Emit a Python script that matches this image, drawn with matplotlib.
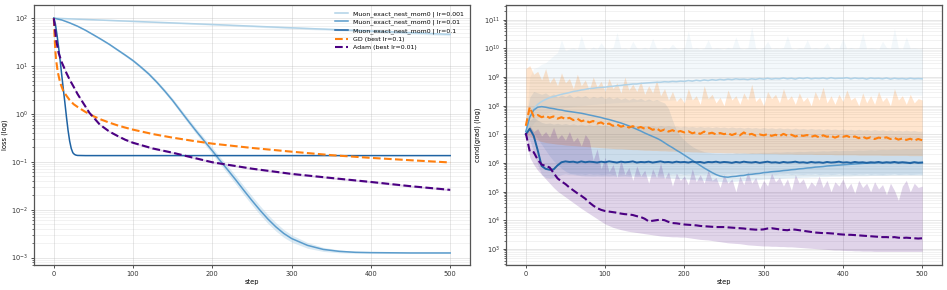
import numpy as np
import matplotlib
matplotlib.use("Agg")
import matplotlib.pyplot as plt
from matplotlib.ticker import LogLocator, NullFormatter

# ---------------- Left panel: loss ----------------
steps_m001 = [0, 100, 200, 300, 400, 500]
loss_m001 = [100, 86, 74, 63, 54, 46]
spread_m001 = [0.0, 0.01, 0.015, 0.02, 0.025, 0.03]

steps_m01 = [0, 10, 20, 30, 40, 50, 60, 70, 80, 90, 100, 110, 120, 130, 140, 150, 160, 170, 180, 190,
             200, 210, 220, 230, 240, 250, 260, 270, 280, 290, 300, 320, 340, 360, 380, 400, 450, 500]
loss_m01 = [100, 92, 80, 68, 56, 45, 36, 28.5, 22, 17, 13, 9.5, 6.8, 4.6, 3.0, 1.9, 1.15, 0.70, 0.43, 0.27,
            0.17, 0.105, 0.066, 0.041, 0.025, 0.0155, 0.0098, 0.0064, 0.0044, 0.0032, 0.0025, 0.0018,
            0.00148, 0.00135, 0.00129, 0.00127, 0.00125, 0.00125]
spread_m01 = [0, 0.005, 0.01, 0.012, 0.014, 0.016, 0.018, 0.02, 0.022, 0.025, 0.028, 0.031, 0.034, 0.037,
              0.04, 0.044, 0.048, 0.053, 0.058, 0.064, 0.07, 0.076, 0.082, 0.088, 0.092, 0.094, 0.094, 0.092,
              0.088, 0.082, 0.075, 0.06, 0.042, 0.03, 0.02, 0.014, 0.01, 0.01]

steps_m1 = [0, 2, 4, 6, 8, 10, 12, 14, 16, 18, 20, 22, 24, 26, 28, 30, 40, 500]
loss_m1 = [100, 75, 45, 25, 13, 6.5, 3.3, 1.7, 0.85, 0.45, 0.27, 0.19, 0.155, 0.143, 0.138, 0.136, 0.135, 0.135]

steps_gd = [0, 1, 2, 3, 5, 8, 12, 16, 20, 25, 30, 40, 50, 60, 70, 80, 90, 100, 125, 150,
            175, 200, 250, 300, 350, 400, 450, 500]
loss_gd = [100, 40, 20, 13, 7.5, 4.5, 3.0, 2.4, 1.95, 1.6, 1.4, 1.1, 0.9, 0.76, 0.66, 0.58, 0.52, 0.47,
           0.38, 0.32, 0.275, 0.24, 0.195, 0.163, 0.138, 0.121, 0.108, 0.097]

steps_adam = [0, 3, 6, 10, 16, 20, 25, 30, 37, 45, 50, 58, 70, 80, 90, 100, 125, 150, 175, 200,
              250, 300, 350, 400, 450, 500]
loss_adam = [100, 35, 19, 12, 7.1, 5.2, 3.7, 2.6, 1.7, 1.05, 0.85, 0.6, 0.43, 0.35, 0.29, 0.25, 0.19,
             0.155, 0.123, 0.098, 0.072, 0.056, 0.046, 0.038, 0.031, 0.026]
spread_adam = [0.0] * 3 + [0.02] * 23

# ---------------- Right panel: cond(grad), log10 values every 5 steps ----------------
steps_r = np.arange(0, 501, 5)

cond_m001_mean = [7.00, 7.60, 7.90, 8.05, 8.15, 8.22, 8.28, 8.32, 8.36, 8.40,
                  8.43, 8.46, 8.50, 8.52, 8.55, 8.57, 8.60, 8.61, 8.63, 8.64,
                  8.65, 8.67, 8.68, 8.70, 8.71, 8.73, 8.74, 8.76, 8.76, 8.78,
                  8.79, 8.80, 8.81, 8.82, 8.82, 8.84, 8.83, 8.85, 8.84, 8.86,
                  8.85, 8.88, 8.86, 8.89, 8.87, 8.90, 8.88, 8.91, 8.89, 8.92,
                  8.90, 8.93, 8.91, 8.94, 8.92, 8.93, 8.91, 8.94, 8.92, 8.95,
                  8.93, 8.96, 8.93, 8.95, 8.94, 8.97, 8.94, 8.96, 8.93, 8.97,
                  8.95, 8.98, 8.94, 8.96, 8.95, 8.97, 8.94, 8.98, 8.95, 8.96,
                  8.96, 8.98, 8.94, 8.97, 8.95, 8.96, 8.93, 8.97, 8.95, 8.96,
                  8.94, 8.97, 8.93, 8.96, 8.94, 8.95, 8.93, 8.96, 8.94, 8.95,
                  8.94]
cond_m001_lo = [6.95, 7.20, 7.40, 7.55, 7.65, 7.72, 7.78, 7.82, 7.86, 7.90,
                7.93, 7.95, 7.97, 7.99, 8.01, 8.02, 8.04, 8.05, 8.06, 8.07,
                8.08, 8.09, 8.10, 8.11, 8.12, 8.13, 8.13, 8.14, 8.15, 8.15,
                8.16, 8.17, 8.17, 8.18, 8.18, 8.19, 8.19, 8.20, 8.20, 8.21,
                8.21, 8.22, 8.22, 8.23, 8.23, 8.24, 8.24, 8.24, 8.25, 8.25,
                8.26, 8.26, 8.26, 8.27, 8.27, 8.27, 8.28, 8.28, 8.28, 8.29,
                8.29, 8.29, 8.30, 8.30, 8.30, 8.30, 8.31, 8.31, 8.31, 8.31,
                8.32, 8.32, 8.32, 8.32, 8.33, 8.33, 8.33, 8.33, 8.33, 8.34,
                8.34, 8.34, 8.34, 8.34, 8.35, 8.35, 8.35, 8.35, 8.35, 8.35,
                8.36, 8.36, 8.36, 8.36, 8.36, 8.36, 8.36, 8.37, 8.37, 8.37,
                8.37]
cond_m001_hi = [7.30, 9.00, 9.30, 9.35, 9.45, 9.50, 9.62, 9.75, 9.85, 10.30,
                9.92, 9.98, 10.02, 9.95, 10.45, 10.00, 9.96, 10.05, 9.98, 10.20,
                10.00, 9.97, 10.03, 10.55, 9.99, 10.02, 9.96, 10.25, 10.01, 9.98,
                10.04, 9.97, 10.35, 10.00, 9.98, 10.03, 9.99, 10.15, 10.00, 9.96,
                10.02, 10.60, 9.99, 10.03, 9.97, 10.01, 10.30, 9.98, 10.02, 10.00,
                9.97, 10.04, 9.99, 10.40, 10.01, 9.98, 10.02, 10.75, 10.00, 9.97,
                10.03, 10.25, 9.98, 10.01, 9.99, 10.03, 10.45, 10.00, 9.97, 10.02,
                10.00, 10.30, 9.98, 10.03, 9.99, 10.01, 10.20, 9.97, 10.02, 10.00,
                10.35, 9.98, 10.03, 9.99, 10.01, 10.55, 9.98, 10.02, 10.00, 9.97,
                10.25, 10.03, 9.99, 10.70, 10.01, 9.98, 10.40, 10.00, 10.02, 9.99,
                10.00]

cond_m01_mean = [7.10, 7.60, 7.85, 7.95, 7.97, 7.95, 7.92, 7.90, 7.87, 7.85,
                 7.82, 7.80, 7.78, 7.76, 7.74, 7.71, 7.68, 7.65, 7.62, 7.59,
                 7.55, 7.52, 7.48, 7.44, 7.40, 7.35, 7.30, 7.24, 7.18, 7.12,
                 7.05, 6.99, 6.93, 6.87, 6.80, 6.71, 6.62, 6.54, 6.45, 6.37,
                 6.28, 6.19, 6.10, 6.01, 5.92, 5.83, 5.75, 5.67, 5.60, 5.55,
                 5.52, 5.51, 5.53, 5.54, 5.56, 5.57, 5.60, 5.61, 5.63, 5.64,
                 5.67, 5.68, 5.70, 5.71, 5.72, 5.74, 5.75, 5.77, 5.78, 5.80,
                 5.81, 5.83, 5.84, 5.86, 5.87, 5.88, 5.90, 5.91, 5.92, 5.93,
                 5.94, 5.95, 5.96, 5.97, 5.98, 5.99, 6.00, 6.00, 6.01, 6.01,
                 6.02, 6.02, 6.01, 6.02, 6.03, 6.02, 6.01, 6.02, 6.03, 6.02,
                 6.02]
cond_m01_lo = [7.00, 7.15, 7.05, 6.85, 6.65, 6.45, 6.25, 6.08, 5.95, 5.82,
               5.72, 5.65, 5.60, 5.58, 5.56, 5.55, 5.55, 5.54, 5.55, 5.54,
               5.55, 5.54, 5.55, 5.53, 5.54, 5.55, 5.53, 5.54, 5.53, 5.54,
               5.52, 5.53, 5.52, 5.52, 5.51, 5.50, 5.49, 5.48, 5.47, 5.46,
               5.45, 5.44, 5.43, 5.42, 5.41, 5.40, 5.39, 5.38, 5.37, 5.36,
               5.35, 5.35, 5.36, 5.37, 5.38, 5.39, 5.40, 5.41, 5.42, 5.43,
               5.44, 5.45, 5.46, 5.47, 5.47, 5.48, 5.49, 5.49, 5.50, 5.50,
               5.51, 5.51, 5.52, 5.52, 5.53, 5.53, 5.53, 5.54, 5.54, 5.54,
               5.55, 5.55, 5.55, 5.56, 5.56, 5.56, 5.56, 5.57, 5.57, 5.57,
               5.57, 5.57, 5.58, 5.58, 5.58, 5.58, 5.58, 5.58, 5.58, 5.58,
               5.58]
cond_m01_hi = [7.50, 8.30, 8.50, 8.45, 8.40, 8.45, 8.35, 8.42, 8.30, 8.38,
               8.32, 8.40, 8.28, 8.35, 8.30, 8.36, 8.26, 8.33, 8.28, 8.34,
               8.25, 8.32, 8.24, 8.30, 8.22, 8.28, 8.20, 8.27, 8.21, 8.26,
               8.18, 8.24, 8.17, 8.22, 8.15, 8.10, 7.90, 7.50, 7.15, 6.95,
               6.80, 6.68, 6.58, 6.50, 6.45, 6.40, 6.38, 6.36, 6.35, 6.35,
               6.34, 6.35, 6.34, 6.36, 6.35, 6.36, 6.35, 6.37, 6.36, 6.37,
               6.38, 6.37, 6.38, 6.39, 6.38, 6.39, 6.40, 6.39, 6.40, 6.41,
               6.40, 6.41, 6.42, 6.41, 6.42, 6.43, 6.42, 6.43, 6.44, 6.43,
               6.44, 6.45, 6.44, 6.45, 6.46, 6.45, 6.46, 6.47, 6.46, 6.47,
               6.48, 6.47, 6.48, 6.49, 6.48, 6.49, 6.50, 6.49, 6.50, 6.50,
               6.50]

cond_m1_mean = [7.00, 7.20, 6.95, 6.45, 5.90, 5.80, 5.77, 5.78, 5.92, 6.03,
                6.06, 6.04, 6.05, 6.02, 6.06, 6.03, 6.05, 6.04, 6.02, 6.05,
                6.03, 6.06, 6.04, 6.02, 6.05, 6.03, 6.04, 6.06, 6.02, 6.04,
                6.03, 6.05, 6.02, 6.04, 6.06, 6.03, 6.04, 6.02, 6.05, 6.03,
                6.04, 6.02, 6.05, 6.03, 6.04, 6.01, 6.04, 6.03, 6.05, 6.02,
                6.04, 6.03, 6.01, 6.04, 6.02, 6.05, 6.03, 6.02, 6.04, 6.01,
                6.03, 6.05, 6.02, 6.03, 6.01, 6.04, 6.02, 6.03, 6.05, 6.02,
                6.03, 6.01, 6.04, 6.02, 6.03, 6.01, 6.04, 6.02, 6.03, 6.05,
                6.02, 6.03, 6.01, 6.04, 6.02, 6.03, 6.01, 6.03, 6.02, 6.04,
                6.01, 6.03, 6.02, 6.04, 6.01, 6.03, 6.02, 6.00, 6.03, 6.01,
                6.02]
cond_m1_lo = [6.95, 6.80, 6.40, 5.95, 5.60, 5.50, 5.48, 5.50, 5.55, 5.60,
              5.62, 5.60, 5.63, 5.61, 5.62, 5.60, 5.63, 5.61, 5.62, 5.60,
              5.61, 5.63, 5.60, 5.62, 5.61, 5.63, 5.60, 5.62, 5.61, 5.60,
              5.62, 5.61, 5.63, 5.60, 5.62, 5.61, 5.60, 5.62, 5.61, 5.63,
              5.60, 5.62, 5.61, 5.60, 5.62, 5.61, 5.63, 5.60, 5.62, 5.61,
              5.60, 5.62, 5.61, 5.63, 5.60, 5.61, 5.62, 5.60, 5.61, 5.63,
              5.60, 5.62, 5.61, 5.60, 5.62, 5.61, 5.63, 5.60, 5.62, 5.61,
              5.60, 5.62, 5.61, 5.63, 5.60, 5.61, 5.62, 5.60, 5.61, 5.63,
              5.60, 5.62, 5.61, 5.60, 5.62, 5.61, 5.63, 5.60, 5.62, 5.61,
              5.60, 5.62, 5.61, 5.63, 5.60, 5.61, 5.62, 5.60, 5.61, 5.62,
              5.61]
cond_m1_hi = [7.10, 7.50, 7.60, 7.50, 7.42, 7.38, 7.40, 7.36, 7.39, 7.35,
              7.38, 7.34, 7.37, 7.33, 7.36, 7.32, 7.35, 7.31, 7.34, 7.30,
              7.33, 7.29, 7.32, 7.30, 7.33, 7.29, 7.31, 7.28, 7.32, 7.29,
              7.31, 7.28, 7.30, 7.27, 7.31, 7.28, 7.30, 7.27, 7.29, 7.26,
              7.29, 7.26, 7.28, 7.25, 7.28, 7.25, 7.27, 7.24, 7.27, 7.24,
              7.26, 7.23, 7.26, 7.23, 7.25, 7.22, 7.25, 7.22, 7.24, 7.21,
              7.24, 7.21, 7.23, 7.20, 7.23, 7.20, 7.22, 7.19, 7.22, 7.19,
              7.21, 7.18, 7.21, 7.18, 7.20, 7.17, 7.20, 7.17, 7.19, 7.16,
              7.19, 7.16, 7.18, 7.15, 7.18, 7.15, 7.17, 7.14, 7.17, 7.14,
              7.16, 7.13, 7.16, 7.13, 7.15, 7.12, 7.15, 7.12, 7.14, 7.11,
              7.12]

cond_gd_mean = [7.30, 7.95, 7.62, 7.68, 7.60, 7.65, 7.58, 7.63, 7.55, 7.60,
                7.54, 7.58, 7.50, 7.55, 7.46, 7.50, 7.42, 7.47, 7.38, 7.42,
                7.34, 7.38, 7.30, 7.35, 7.27, 7.31, 7.24, 7.29, 7.22, 7.26,
                7.20, 7.24, 7.16, 7.21, 7.12, 7.17, 7.10, 7.15, 7.08, 7.12,
                7.07, 7.11, 7.04, 7.08, 7.02, 7.10, 7.03, 7.06, 7.00, 7.05,
                7.01, 7.04, 6.98, 7.03, 6.97, 7.07, 6.99, 7.02, 6.96, 7.00,
                6.97, 7.01, 6.95, 6.99, 6.94, 7.02, 6.96, 6.99, 6.93, 6.97,
                6.95, 6.98, 6.92, 6.96, 6.90, 6.97, 6.92, 6.95, 6.89, 6.94,
                6.92, 6.95, 6.89, 6.93, 6.87, 6.92, 6.86, 6.90, 6.84, 6.89,
                6.87, 6.90, 6.84, 6.88, 6.82, 6.86, 6.81, 6.85, 6.79, 6.84,
                6.80]
cond_gd_lo = [7.00, 6.95, 6.85, 6.80, 6.75, 6.72, 6.70, 6.68, 6.66, 6.65,
              6.63, 6.62, 6.61, 6.60, 6.59, 6.58, 6.57, 6.56, 6.55, 6.54,
              6.53, 6.52, 6.51, 6.50, 6.50, 6.49, 6.48, 6.47, 6.47, 6.46,
              6.45, 6.45, 6.44, 6.44, 6.43, 6.43, 6.42, 6.42, 6.41, 6.41,
              6.40, 6.40, 6.39, 6.39, 6.38, 6.38, 6.38, 6.37, 6.37, 6.37,
              6.36, 6.36, 6.36, 6.35, 6.35, 6.35, 6.34, 6.34, 6.34, 6.34,
              6.33, 6.33, 6.33, 6.33, 6.32, 6.32, 6.32, 6.32, 6.31, 6.31,
              6.31, 6.31, 6.31, 6.30, 6.30, 6.30, 6.30, 6.30, 6.29, 6.29,
              6.29, 6.29, 6.29, 6.29, 6.28, 6.28, 6.28, 6.28, 6.28, 6.28,
              6.27, 6.27, 6.27, 6.27, 6.27, 6.27, 6.27, 6.26, 6.26, 6.26,
              6.26]
cond_gd_hi = [9.30, 9.40, 9.10, 9.20, 8.90, 9.30, 8.80, 9.00, 8.70, 9.15,
              8.80, 8.95, 8.60, 9.10, 8.70, 8.90, 8.55, 9.00, 8.65, 8.85,
              8.50, 8.95, 8.60, 8.80, 8.45, 9.00, 8.55, 8.75, 8.50, 8.85,
              8.40, 8.70, 8.45, 8.90, 8.35, 8.60, 8.20, 8.50, 8.15, 8.30,
              8.10, 8.60, 8.20, 8.35, 8.05, 8.70, 8.25, 8.40, 8.10, 8.30,
              8.00, 8.55, 8.20, 8.35, 8.05, 8.45, 8.20, 8.75, 8.15, 8.30,
              8.00, 8.50, 8.25, 8.40, 8.10, 8.60, 8.20, 8.35, 8.05, 8.45,
              8.15, 8.30, 8.00, 8.50, 8.20, 8.65, 8.10, 8.35, 8.05, 8.40,
              8.15, 8.55, 8.20, 8.30, 8.00, 8.45, 8.10, 8.35, 8.05, 8.50,
              8.15, 8.30, 8.00, 8.60, 8.20, 8.35, 8.05, 8.40, 8.10, 8.25,
              8.20]

cond_adam_mean = [7.05, 6.40, 6.38, 6.12, 5.95, 5.90, 5.85, 5.66, 5.47, 5.36,
                  5.27, 5.15, 5.05, 4.95, 4.86, 4.76, 4.63, 4.52, 4.43, 4.37,
                  4.33, 4.31, 4.29, 4.27, 4.24, 4.22, 4.21, 4.19, 4.15, 4.12,
                  4.06, 3.97, 3.99, 4.01, 4.03, 4.01, 3.95, 3.91, 3.90, 3.88,
                  3.86, 3.85, 3.84, 3.83, 3.81, 3.80, 3.79, 3.78, 3.77, 3.77,
                  3.77, 3.76, 3.75, 3.74, 3.73, 3.72, 3.70, 3.69, 3.68, 3.68,
                  3.69, 3.72, 3.73, 3.71, 3.69, 3.67, 3.66, 3.69, 3.68, 3.66,
                  3.64, 3.62, 3.60, 3.58, 3.57, 3.56, 3.56, 3.55, 3.54, 3.52,
                  3.51, 3.50, 3.50, 3.49, 3.48, 3.47, 3.46, 3.45, 3.44, 3.43,
                  3.42, 3.42, 3.41, 3.42, 3.40, 3.39, 3.40, 3.39, 3.38, 3.37,
                  3.38]
cond_adam_lo = [7.00, 6.20, 5.95, 5.75, 5.60, 5.45, 5.30, 5.15, 5.02, 4.92,
                4.82, 4.72, 4.62, 4.52, 4.42, 4.33, 4.24, 4.15, 4.06, 3.97,
                3.88, 3.82, 3.76, 3.72, 3.68, 3.65, 3.62, 3.60, 3.58, 3.56,
                3.54, 3.52, 3.50, 3.48, 3.46, 3.45, 3.44, 3.43, 3.43, 3.42,
                3.42, 3.40, 3.38, 3.36, 3.34, 3.33, 3.32, 3.30, 3.28, 3.26,
                3.24, 3.22, 3.21, 3.20, 3.19, 3.17, 3.15, 3.14, 3.13, 3.12,
                3.11, 3.11, 3.10, 3.10, 3.09, 3.09, 3.08, 3.08, 3.07, 3.06,
                3.05, 3.04, 3.03, 3.02, 3.01, 3.00, 2.99, 2.98, 2.97, 2.97,
                2.96, 2.95, 2.95, 2.94, 2.94, 2.93, 2.93, 2.93, 2.92, 2.92,
                2.92, 2.92, 2.92, 2.92, 2.92, 2.92, 2.92, 2.92, 2.92, 2.92,
                2.92]
cond_adam_hi = [7.05, 7.30, 7.10, 7.20, 6.95, 7.10, 6.90, 7.25, 6.85, 7.00,
                6.80, 7.10, 6.75, 6.90, 6.60, 7.00, 6.80, 6.10, 6.50, 5.80,
                6.20, 5.70, 5.95, 5.50, 6.10, 5.60, 5.85, 5.40, 5.90, 5.55,
                5.75, 5.30, 5.80, 5.50, 6.00, 5.45, 5.70, 5.20, 5.65, 5.40,
                5.55, 5.25, 5.80, 5.35, 5.60, 5.30, 5.75, 5.40, 5.50, 5.15,
                5.60, 5.30, 5.45, 5.00, 5.55, 5.25, 5.70, 5.30, 5.50, 5.10,
                5.40, 5.20, 5.65, 5.35, 5.50, 5.20, 5.45, 5.05, 5.60, 5.30,
                5.45, 5.10, 5.35, 5.20, 5.55, 5.15, 5.40, 5.00, 5.35, 5.20,
                5.45, 5.10, 5.30, 4.95, 5.40, 5.15, 5.30, 5.00, 5.35, 5.10,
                5.25, 4.90, 5.30, 5.05, 4.70, 5.20, 5.40, 5.00, 5.30, 5.15,
                5.20]

labels = ["Muon_exact_nest_mom0 | lr=0.001", "Muon_exact_nest_mom0 | lr=0.01",
          "Muon_exact_nest_mom0 | lr=0.1", "GD (best lr=0.1)", "Adam (best lr=0.01)"]

# ---------------- styling ----------------
blues = plt.cm.Blues
c_light = blues(0.32)
c_med = "#5b9ccc"
c_dark = "#1f63a3"
c_gd = "#ff7f0e"
c_adam = "#4b0082"
FS = 4.8

fig = plt.figure(figsize=(9.47, 2.9), dpi=100)
axL = fig.add_axes([0.0359, 0.0862, 0.4604, 0.897])
axR = fig.add_axes([0.5343, 0.0862, 0.4604, 0.897])


def style(ax):
    ax.set_yscale("log")
    ax.set_xlim(-25, 525)
    ax.yaxis.set_major_locator(LogLocator(base=10, numticks=30))
    ax.yaxis.set_minor_locator(LogLocator(base=10, subs=np.arange(2, 10), numticks=30))
    ax.yaxis.set_minor_formatter(NullFormatter())
    ax.set_xticks([0, 100, 200, 300, 400, 500])
    ax.grid(True, which="major", color="#b0b0b0", alpha=0.35, lw=0.6)
    ax.grid(True, which="minor", axis="y", color="#b0b0b0", alpha=0.22, lw=0.5)
    ax.tick_params(which="major", labelsize=FS, length=2.5, width=0.6, pad=2, colors="#333333")
    ax.tick_params(which="minor", length=1.5, width=0.5, colors="#333333")
    for s in ax.spines.values():
        s.set_color("#555555")
        s.set_linewidth(0.9)
    ax.set_xlabel("step", fontsize=FS, labelpad=1.5)
    ax.set_axisbelow(True)


def band(ax, x, y, spread, color, alpha):
    y = np.asarray(y, float)
    s = 10.0 ** np.asarray(spread, float)
    ax.fill_between(x, y / s, y * s, color=color, alpha=alpha, lw=0)


# Left panel
band(axL, steps_m001, loss_m001, spread_m001, c_light, 0.3)
axL.plot(steps_m001, loss_m001, color=c_light, lw=1.1, label=labels[0])
band(axL, steps_m01, loss_m01, spread_m01, c_light, 0.45)
axL.plot(steps_m01, loss_m01, color=c_med, lw=1.1, label=labels[1])
axL.plot(steps_m1, loss_m1, color=c_dark, lw=1.1, label=labels[2])
axL.plot(steps_gd, loss_gd, color=c_gd, lw=1.5, ls="--", label=labels[3])
band(axL, steps_adam, loss_adam, spread_adam, c_adam, 0.15)
axL.plot(steps_adam, loss_adam, color=c_adam, lw=1.5, ls="--", label=labels[4])
style(axL)
axL.set_ylim(7e-4, 190)
axL.set_ylabel("loss (log)", fontsize=FS, labelpad=2)
axL.legend(loc="upper right", fontsize=4.5, frameon=False, handlelength=2.2,
           labelspacing=0.42, borderaxespad=0.5)


# Right panel
def rseries(ax, mean, lo, hi, color, alpha, ls, lw):
    ax.fill_between(steps_r, 10.0 ** np.asarray(lo), 10.0 ** np.asarray(hi), color=color, alpha=alpha, lw=0)
    ax.plot(steps_r, 10.0 ** np.asarray(mean), color=color, ls=ls, lw=lw)


rseries(axR, cond_m001_mean, cond_m001_lo, cond_m001_hi, c_light, 0.15, "-", 1.1)
rseries(axR, cond_m01_mean, cond_m01_lo, cond_m01_hi, c_med, 0.16, "-", 1.1)
rseries(axR, cond_m1_mean, cond_m1_lo, cond_m1_hi, c_dark, 0.12, "-", 1.4)
rseries(axR, cond_gd_mean, cond_gd_lo, cond_gd_hi, c_gd, 0.2, "--", 1.5)
rseries(axR, cond_adam_mean, cond_adam_lo, cond_adam_hi, c_adam, 0.17, "--", 1.5)
style(axR)
axR.set_ylim(280, 3.3e11)
axR.set_ylabel("cond(grad) (log)", fontsize=FS, labelpad=2)

fig.savefig("out.png", dpi=100)
